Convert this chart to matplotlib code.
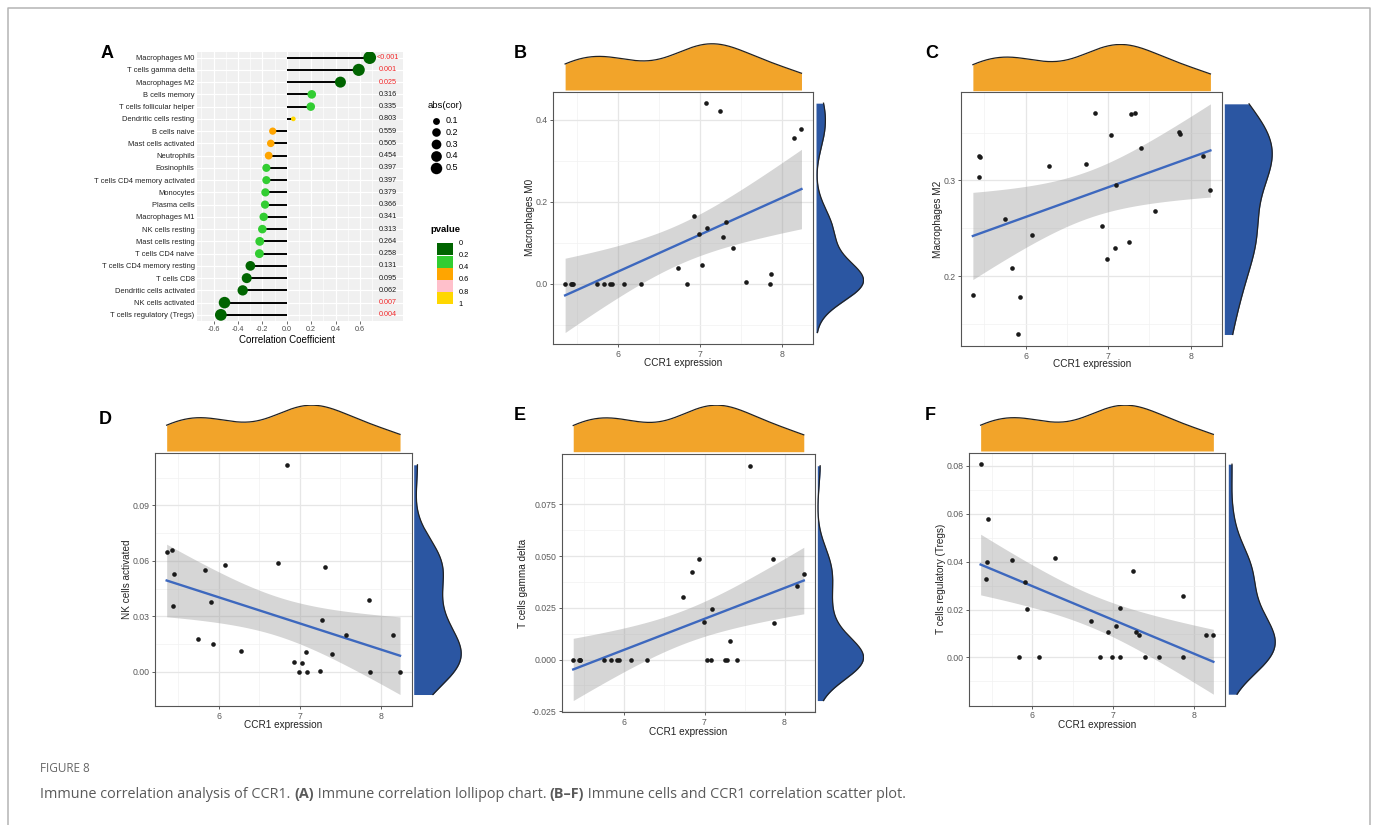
import numpy as np
import matplotlib
matplotlib.use("Agg")
import matplotlib.pyplot as plt
from matplotlib.patches import Rectangle

plt.rcParams['font.family'] = ['Liberation Sans', 'DejaVu Sans']
plt.rcParams['mathtext.fontset'] = 'custom'
plt.rcParams['mathtext.rm'] = 'Liberation Sans'
plt.rcParams['mathtext.it'] = 'Liberation Sans:italic'

# panel A - lollipop data
cells = ["Macrophages M0", "T cells gamma delta", "Macrophages M2", "B cells memory",
         "T cells follicular helper", "Dendritic cells resting", "B cells naive",
         "Mast cells activated", "Neutrophils", "Eosinophils", "T cells CD4 memory activated",
         "Monocytes", "Plasma cells", "Macrophages M1", "NK cells resting", "Mast cells resting",
         "T cells CD4 naive", "T cells CD4 memory resting", "T cells CD8",
         "Dendritic cells activated", "NK cells activated", "T cells regulatory (Tregs)"]
cor = [0.68, 0.59, 0.44, 0.205, 0.197, 0.054, -0.115, -0.131, -0.148, -0.167, -0.167,
       -0.175, -0.178, -0.189, -0.20, -0.221, -0.224, -0.298, -0.328, -0.361, -0.51, -0.54]
pvals = [0.0005, 0.001, 0.025, 0.316, 0.335, 0.803, 0.559, 0.505, 0.454, 0.397, 0.397,
         0.379, 0.366, 0.341, 0.313, 0.264, 0.258, 0.131, 0.095, 0.062, 0.007, 0.004]
pval_labels = ["<0.001", "0.001", "0.025", "0.316", "0.335", "0.803", "0.559", "0.505",
               "0.454", "0.397", "0.397", "0.379", "0.366", "0.341", "0.313", "0.264",
               "0.258", "0.131", "0.095", "0.062", "0.007", "0.004"]
size_levels = [0.1, 0.2, 0.3, 0.4, 0.5]
pbin_edges = [0, 0.2, 0.4, 0.6, 0.8, 1]
pbin_colors = ["#006400", "#32CD32", "#FFA500", "#FFC0CB", "#FFD700"]

# panels B-F - samples (CCR1 expression shared)
ccr1 = [5.36, 5.43, 5.44, 5.45, 5.75, 5.83, 5.91, 5.93, 6.08, 6.28, 6.73, 6.84, 6.93,
        6.99, 7.03, 7.08, 7.09, 7.25, 7.28, 7.32, 7.40, 7.57, 7.86, 7.87, 8.15, 8.24]
macrophages_m0 = [0, 0, 0, 0, 0, 0, 0, 0, 0, 0, 0.039, 0, 0.164, 0.120, 0.045, 0.440,
                  0.136, 0.420, 0.113, 0.150, 0.087, 0.003, 0, 0.023, 0.355, 0.377]
macrophages_m2 = [0.180, 0.304, 0.326, 0.324, 0.260, 0.208, 0.139, 0.178, 0.243, 0.315,
                  0.317, 0.371, 0.252, 0.218, 0.348, 0.229, 0.295, 0.236, 0.369, 0.370,
                  0.334, 0.268, 0.351, 0.349, 0.326, 0.290]
nk_activated = [0.065, 0.066, 0.0355, 0.053, 0.018, 0.055, 0.038, 0.015, 0.058, 0.0115,
                0.059, 0.112, 0.0053, 0.0, 0.0047, 0.0105, 0.0, 0.0005, 0.028, 0.0565,
                0.0097, 0.0198, 0.0388, 0.0, 0.0198, 0.0]
t_gamma_delta = [0, 0, 0, 0, 0, 0, 0, 0, 0, 0, 0.030, 0.0424, 0.0484, 0.018, 0, 0,
                 0.0246, 0, 0, 0.0088, 0, 0.0936, 0.0484, 0.0178, 0.0354, 0.0415]
tregs = [0.0807, 0.0328, 0.0397, 0.0578, 0.0408, 0, 0.0315, 0.0204, 0, 0.0414, 0.0151,
         0, 0.0106, 0, 0.0133, 0.0208, 0, 0.0363, 0.0108, 0.0093, 0, 0, 0.0256, 0,
         0.0092, 0.0092]

ORANGE = "#F2A42A"
BLUE = "#2B56A2"
W, H = 1375, 825

fig = plt.figure(figsize=(13.75, 8.25), dpi=100)
fig.patch.set_facecolor("white")


def box(x0, y0, x1, y1):
    return fig.add_axes([x0 / W, 1 - y1 / H, (x1 - x0) / W, (y1 - y0) / H])


over = fig.add_axes([0, 0, 1, 1], zorder=-5)
over.set_xlim(0, W)
over.set_ylim(H, 0)
over.axis("off")

# figure frame
over.plot([8, 8, 1370, 1370], [825, 8, 8, 825], color="#B4B4B4", lw=1.1)


def dot_diam(v):
    # px diameter, area-like scaling
    return 4.7 + 8.0 * np.sqrt(np.clip((v - 0.054) / 0.62, 0, None))


def pcolor(p):
    for i in range(5):
        if p < pbin_edges[i + 1]:
            return pbin_colors[i]
    return pbin_colors[-1]


# ---------------- panel A
axA = box(196.7, 51.5, 403, 321)
axA.set_facecolor("#F0F0F0")
n = len(cells)
ypos = np.arange(n)[::-1]
cor_a = np.array(cor)
axA.hlines(ypos, 0, cor_a, color="black", lw=1.4, zorder=2)
sizes = (dot_diam(np.abs(cor_a)) / (100 / 72)) ** 2
axA.scatter(cor_a, ypos, s=sizes, c=[pcolor(p) for p in pvals], linewidths=0, zorder=3)
for yy, lab, p in zip(ypos, pval_labels, pvals):
    axA.text(0.83, yy, lab, ha="center", va="center", fontsize=5.2,
             color="#F0282A" if p < 0.05 else "#1A1A1A")
axA.set_xlim(-0.738, 0.953)
axA.set_ylim(-0.5, n - 0.5)
axA.set_xticks([-0.6, -0.4, -0.2, 0.0, 0.2, 0.4, 0.6])
axA.set_xticklabels(["-0.6", "-0.4", "-0.2", "0.0", "0.2", "0.4", "0.6"])
axA.set_xticks([-0.7, -0.5, -0.3, -0.1, 0.1, 0.3, 0.5, 0.7], minor=True)
axA.set_yticks(ypos)
axA.set_yticklabels(cells)
axA.grid(which="major", color="white", lw=0.9)
axA.grid(which="minor", axis="x", color="white", lw=0.45)
axA.set_axisbelow(True)
for s in axA.spines.values():
    s.set_visible(False)
axA.tick_params(axis="x", which="major", labelsize=5.2, labelcolor="#4D4D4D",
                color="#333333", length=2, width=0.5, pad=1.5)
axA.tick_params(axis="x", which="minor", length=0)
axA.tick_params(axis="y", labelsize=5.4, labelcolor="#222222", length=0, pad=1.5)
over.text(287.4, 340, "Correlation Coefficient", ha="center", va="center", fontsize=7)

# legends for A
over.text(445.5, 106, "abs(cor)", ha="center", va="center", fontsize=6.8)
for i, v in enumerate(size_levels):
    yy = 120.7 + i * 11.75
    d = dot_diam(v)
    over.scatter([435.7], [yy], s=(d / (100 / 72)) ** 2, c="black", linewidths=0)
    over.text(446, yy, str(v), ha="left", va="center", fontsize=6.5)
over.text(430, 230, "pvalue", ha="left", va="center", fontsize=6.8, fontweight="bold")
for i, c in enumerate(pbin_colors):
    over.add_patch(Rectangle((436.7, 243.3 + i * 12.2), 16.3, 12.2, facecolor=c,
                             edgecolor="none"))
for i, e in enumerate(pbin_edges):
    over.text(458.7, 243.3 + i * 12.2, "0" if e == 0 else ("1" if e == 1 else str(e)),
              ha="left", va="center", fontsize=5.3)


# ---------------- scatter panels
def kde(data, grid):
    data = np.asarray(data)
    sd = data.std(ddof=1)
    iqr = np.percentile(data, 75) - np.percentile(data, 25)
    lo = min(sd, iqr / 1.34) if iqr > 0 else sd
    bw = 0.9 * lo * len(data) ** -0.2
    z = (grid[:, None] - data[None, :]) / bw
    return np.exp(-0.5 * z ** 2).sum(axis=1) / (len(data) * bw * np.sqrt(2 * np.pi))


def scatter_panel(main, top, right, yvals, yticks, ylabels, yminor, ylabel, ylab_x,
                  xlab_y, stat, stat_xy):
    x = np.array(ccr1)
    y = np.array(yvals)
    nn = len(x)
    slope, icpt = np.polyfit(x, y, 1)
    xs = np.linspace(x.min(), x.max(), 80)
    yhat = icpt + slope * xs
    resid = y - (icpt + slope * x)
    s = np.sqrt((resid ** 2).sum() / (nn - 2))
    sxx = ((x - x.mean()) ** 2).sum()
    se = s * np.sqrt(1 / nn + (xs - x.mean()) ** 2 / sxx)
    lo, hi = yhat - 2.064 * se, yhat + 2.064 * se

    x0, x1 = x.min(), x.max()
    y0, y1 = min(y.min(), lo.min()), max(y.max(), hi.max())
    xlim = (x0 - 0.05 * (x1 - x0), x1 + 0.05 * (x1 - x0))
    ylim = (y0 - 0.05 * (y1 - y0), y1 + 0.05 * (y1 - y0))

    ax = box(*main)
    ax.fill_between(xs, lo, hi, color="#999999", alpha=0.4, lw=0, zorder=2)
    ax.plot(xs, yhat, color="#3D68BE", lw=1.7, zorder=3)
    ax.scatter(x, y, s=11, c="#1A1A1A", linewidths=0, zorder=4)
    ax.set_xlim(xlim)
    ax.set_ylim(ylim)
    ax.set_xticks([6, 7, 8])
    ax.set_xticklabels(["6", "7", "8"])
    ax.set_xticks([5.5, 6.5, 7.5], minor=True)
    ax.set_yticks(yticks)
    ax.set_yticklabels(ylabels)
    ax.set_yticks(yminor, minor=True)
    ax.grid(which="major", color="#E6E6E6", lw=0.9)
    ax.grid(which="minor", color="#F2F2F2", lw=0.5)
    ax.set_axisbelow(True)
    for sp in ax.spines.values():
        sp.set_color("#555555")
        sp.set_linewidth(0.8)
    ax.tick_params(which="major", labelsize=6.3, labelcolor="#5A5A5A", color="#444444",
                   length=2.5, width=0.6, pad=1.5)
    ax.tick_params(which="minor", length=0)

    cx = (main[0] + main[2]) / 2
    cy = (main[1] + main[3]) / 2
    over.text(cx, xlab_y, "CCR1 expression", ha="center", va="center", fontsize=7.2,
              color="#222222")
    over.text(ylab_x, cy, ylabel, ha="center", va="center", fontsize=7.2,
              color="#222222", rotation=90)
    over.text(stat_xy[0], stat_xy[1], stat, ha="left", va="center", fontsize=7.3,
              color="#111111")

    # top marginal density
    gx = np.linspace(x0, x1, 512)
    dx = kde(x, gx)
    tax = box(*top)
    tax.fill_between(gx, 0, dx, color=ORANGE, lw=0)
    tax.plot(gx, dx, color="#222222", lw=0.9)
    tax.set_xlim(xlim)
    tax.set_ylim(0, dx.max() * 1.01)
    tax.axis("off")

    # right marginal density
    gy = np.linspace(y0, y1, 512)
    dy = kde(y, gy)
    rax = box(*right)
    rax.fill_betweenx(gy, 0, dy, color=BLUE, lw=0)
    rax.plot(dy, gy, color="#222222", lw=0.9)
    rax.set_ylim(ylim)
    rax.set_xlim(0, dy.max() * 1.01)
    rax.axis("off")


MINUS = "\u2212"
scatter_panel((553.3, 91.7, 813.3, 344), (553.3, 43.3, 813.3, 90), (816, 91.7, 864, 344),
              macrophages_m0, [0, 0.2, 0.4], ["0.0", "0.2", "0.4"], [-0.1, 0.1, 0.3],
              "Macrophages M0", 530, 363.3, r"$\it{R}$ = 0.68, $\it{p}$ = 0.00012", (565, 111))
scatter_panel((961, 92.3, 1222.3, 346), (961, 44, 1222.3, 90.7), (1224.3, 92.3, 1272.7, 346),
              macrophages_m2, [0.2, 0.3], ["0.2", "0.3"], [0.15, 0.25, 0.35],
              "Macrophages M2", 938.3, 364, r"$\it{R}$ = 0.44, $\it{p}$ = 0.025", (973.3, 121))
scatter_panel((155, 453.3, 411.7, 706), (155, 404.7, 411.7, 451), (413.7, 453.3, 461.7, 706),
              nk_activated, [0, 0.03, 0.06, 0.09], ["0.00", "0.03", "0.06", "0.09"],
              [0.015, 0.045, 0.075, 0.105], "NK cells activated", 126.7, 725,
              r"$\it{R}$ = " + MINUS + r"0.51, $\it{p}$ = 0.0073", (166.7, 472.7))
scatter_panel((561.7, 454, 815.3, 712.3), (561.7, 404.7, 815.3, 451.7), (817.3, 454, 864, 712.3),
              t_gamma_delta, [-0.025, 0, 0.025, 0.05, 0.075],
              ["-0.025", "0.000", "0.025", "0.050", "0.075"],
              [-0.0125, 0.0125, 0.0375, 0.0625, 0.0875], "T cells gamma delta", 522.7, 731.7,
              r"$\it{R}$ = 0.59, $\it{p}$ = 0.0015", (573.3, 473.3))
scatter_panel((969, 452.7, 1225, 705.7), (969, 404.7, 1225, 451), (1228.3, 452.7, 1275.7, 705.7),
              tregs, [0, 0.02, 0.04, 0.06, 0.08], ["0.00", "0.02", "0.04", "0.06", "0.08"],
              [-0.01, 0.01, 0.03, 0.05, 0.07], "T cells regulatory (Tregs)", 940.7, 725,
              r"$\it{R}$ = " + MINUS + r"0.54, $\it{p}$ = 0.0042", (981, 472.7))

# panel letters
for letter, (lx, ly) in zip("ABCDEF", [(106.7, 54), (520, 53), (931.7, 53),
                                       (105, 420), (520, 416), (930, 416)]):
    over.text(lx, ly, letter, ha="center", va="center", fontsize=13, fontweight="bold")

# caption
over.text(40, 769, "FIGURE 8", ha="left", va="center", fontsize=8.5, color="#666666",
          family=["Open Sans", "DejaVu Sans"])
pieces = [("Immune correlation analysis of CCR1. ", "normal"), ("(A)", "bold"),
          (" Immune correlation lollipop chart. ", "normal"), ("(B\u2013F)", "bold"),
          (" Immune cells and CCR1 correlation scatter plot.", "normal")]
renderer = fig.canvas.get_renderer()
probe = [over.text(0, 0, t, fontsize=10, fontweight=w, family=["Open Sans", "DejaVu Sans"])
         for t, w in pieces]
total = sum(t.get_window_extent(renderer).width for t in probe)
for t in probe:
    t.remove()
fs = 10 * 865 / total
xc = 40
for t, w in pieces:
    tt = over.text(xc, 794, t, ha="left", va="center", fontsize=fs, fontweight=w,
                   color="#5A5A5A", family=["Open Sans", "DejaVu Sans"])
    xc += tt.get_window_extent(renderer).width

fig.savefig("out.png", dpi=100)
